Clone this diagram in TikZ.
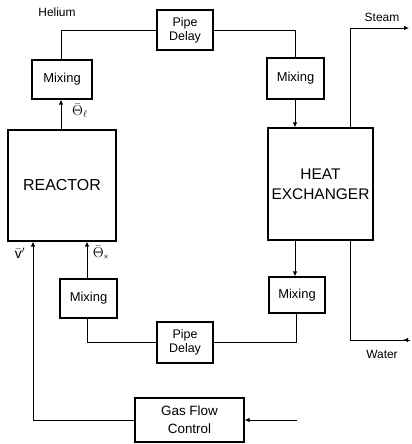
\documentclass[tikz,border=0pt]{standalone}
\usepackage{fontspec}
\setmainfont{Liberation Sans}
\usetikzlibrary{arrows.meta}
\tikzset{
  blk/.style={draw, line width=1.2bp, inner sep=0pt, align=center, font=\fontsize{13}{15}\selectfont},
  big/.style={blk, font=\fontsize{16}{20}\selectfont},
  pd/.style={blk, font=\fontsize{12.5}{14}\selectfont},
  conn/.style={line width=0.9bp},
  flow/.style={conn, -{Latex[length=5bp,width=4.5bp]}},
  lbl/.style={inner sep=0pt, font=\fontsize{12}{14}\selectfont},
  sym/.style={inner sep=0pt, font=\fontsize{14}{16}\selectfont}
}
\begin{document}
\begin{tikzpicture}[x=1bp,y=-1bp]
\useasboundingbox (0,0) rectangle (411,444);
% blocks
\node[pd, minimum width=56bp, minimum height=40bp] (pd1) at (185,30) {Pipe\\Delay};
\node[blk, minimum width=60bp, minimum height=39bp] (mtl) at (62,79.5) {Mixing};
\node[blk, minimum width=57bp, minimum height=41bp] (mtr) at (295.5,78.5) {Mixing};
\node[big, minimum width=108bp, minimum height=111bp] (re) at (62,185.5) {REACTOR};
\node[big, minimum width=105bp, minimum height=112bp, font=\fontsize{15.5}{20}\selectfont] (hx) at (320.5,184) {HEAT\\EXCHANGER};
\node[blk, minimum width=57bp, minimum height=39bp] (mbl) at (88.5,298.5) {Mixing};
\node[blk, minimum width=56bp, minimum height=36bp] (mbr) at (297,295) {Mixing};
\node[pd, minimum width=56bp, minimum height=41bp] (pd2) at (185,342.5) {Pipe\\Delay};
\node[blk, minimum width=109bp, minimum height=44bp, font=\fontsize{13.5}{18}\selectfont] (gfc) at (189.5,420) {Gas Flow\\Control};
% labels
\node[lbl] (he) at (57,12) {Helium};
\node[lbl] (st) at (382,17) {Steam};
\node[lbl] (wa) at (382,354) {Water};
\node[sym] (thf) at (80,111) {$\bar{\Theta}_{\ell}$};
\node[sym] (thi) at (101,253) {$\bar{\Theta}_{*}$};
\node[sym] (vv) at (20,253) {$\bar{\mathrm{v}}'$};
% coordinates
\coordinate (stEnd) at (409,28);
\coordinate (waEnd) at (410,340);
\coordinate (gfIn) at (297,420);
% connectors top loop
\draw[flow] (re.north -| 61,0) -- (mtl.south -| 61,0);
\draw[conn] (mtl.north -| 61,0) |- (pd1.west);
\draw[conn] (pd1.east) -| (mtr.north -| 295,0);
\draw[flow] (mtr.south -| 295,0) -- (hx.north -| 295,0);
\draw[flow] (hx.north -| 350,0) |- (stEnd);
% bottom loop
\draw[flow] (hx.south -| 295,0) -- (mbr.north -| 295,0);
\draw[conn] (mbr.south -| 296,0) |- (pd2.east);
\draw[conn] (pd2.west) -| (mbl.south -| 87,0);
\draw[flow] (mbl.north -| 87,0) -- (re.south -| 87,0);
% water
\draw[conn] (waEnd) -| (hx.south -| 350,0);
\draw[flow] (waEnd) -- ++(-7,0);
% gas flow
\draw[flow] (gfc.west) -| (re.south -| 33,0);
\draw[flow] (gfIn) -- (gfc.east);
\end{tikzpicture}
\end{document}
